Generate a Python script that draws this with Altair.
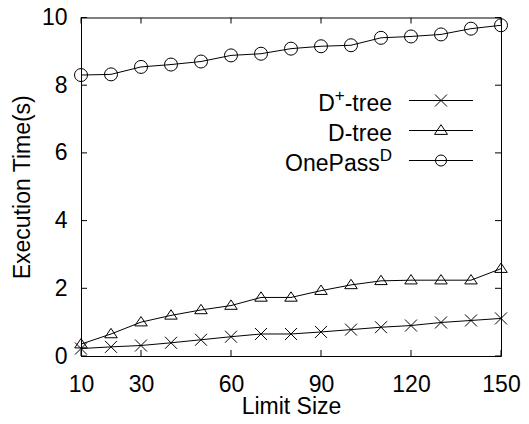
import altair as alt
import pandas as pd

# ---------------- data ----------------
limit_size = [10, 20, 30, 40, 50, 60, 70, 80, 90, 100, 110, 120, 130, 140, 150]
dplus_tree = [0.22, 0.27, 0.31, 0.39, 0.48, 0.57, 0.65, 0.65, 0.71, 0.78, 0.85, 0.90, 0.99, 1.05, 1.11]
d_tree = [0.35, 0.65, 1.00, 1.20, 1.36, 1.49, 1.73, 1.73, 1.93, 2.10, 2.22, 2.24, 2.24, 2.24, 2.58]
onepass_d = [8.30, 8.32, 8.54, 8.61, 8.70, 8.88, 8.93, 9.08, 9.15, 9.18, 9.40, 9.44, 9.50, 9.67, 9.77]

series_names = ["D+-tree", "D-tree", "OnePassD"]
x_ticks = [10, 30, 60, 90, 120, 150]
y_ticks = [0, 2, 4, 6, 8, 10]
x_title = "Limit Size"
y_title = "Execution Time(s)"

# ---------------- styling ----------------
W, H = 420, 338.5
FONT = "Liberation Sans"
FS = 23
SUP = 17
TICK = 6

cross_path = "M-1,-1L1,1M-1,1L1,-1"
tri_path = "M-1,0.6L1,0.6L0,-0.9Z"
shapes = [cross_path, tri_path, "circle"]
sizes = [144, 169, 121]

# Arial / Liberation Sans advance widths (em)
ADV = {"-": 0.333, "t": 0.278, "r": 0.333, "e": 0.556, "D": 0.722, "+": 0.584,
       "O": 0.778, "n": 0.556, "P": 0.667, "a": 0.556, "s": 0.5}


def tw(s, size):
    return sum(ADV.get(c, 0.556) for c in s) * size


rows = []
for n, vals in zip(series_names, [dplus_tree, d_tree, onepass_d]):
    for x, v in zip(limit_size, vals):
        rows.append({"limit": x, "time": v, "series": n})
df = pd.DataFrame(rows)

xs = alt.Scale(domain=[10, 150], nice=False, zero=False)
ys = alt.Scale(domain=[0, 10], nice=False, zero=False)

x_axis = alt.Axis(values=x_ticks, title=x_title, ticks=False, domain=False, grid=False,
                  labelFont=FONT, labelFontSize=FS, labelColor="black", labelPadding=17,
                  titleFont=FONT, titleFontSize=FS, titleFontWeight="normal", titleColor="black",
                  titlePadding=-1, labelFlush=False, labelOverlap=False)
y_axis = alt.Axis(values=y_ticks, title=y_title, ticks=False, domain=False, grid=False,
                  labelFont=FONT, labelFontSize=FS, labelColor="black", labelPadding=14,
                  titleFont=FONT, titleFontSize=FS, titleFontWeight="normal", titleColor="black",
                  titlePadding=7, labelFlush=False, labelOverlap=False)

base = alt.Chart(df)
lines = base.mark_line(color="black", strokeWidth=1).encode(
    x=alt.X("limit:Q", scale=xs, axis=x_axis),
    y=alt.Y("time:Q", scale=ys, axis=y_axis),
    detail="series:N",
)
points = base.mark_point(filled=False, color="black", strokeWidth=1, opacity=1).encode(
    x=alt.X("limit:Q"),
    y=alt.Y("time:Q"),
    shape=alt.Shape("series:N", scale=alt.Scale(domain=series_names, range=shapes), legend=None),
    size=alt.Size("series:N", scale=alt.Scale(domain=series_names, range=sizes), legend=None),
)

xt = alt.Chart(pd.DataFrame({"limit": x_ticks}))
yt = alt.Chart(pd.DataFrame({"time": y_ticks}))
tick_layers = [
    xt.mark_rule(color="black", strokeWidth=1).encode(
        x=alt.X("limit:Q"), y=alt.value(H), y2=alt.value(H - TICK)),
    xt.mark_rule(color="black", strokeWidth=1).encode(
        x=alt.X("limit:Q"), y=alt.value(0), y2=alt.value(TICK)),
    yt.mark_rule(color="black", strokeWidth=1).encode(
        y=alt.Y("time:Q"), x=alt.value(0), x2=alt.value(TICK)),
    yt.mark_rule(color="black", strokeWidth=1).encode(
        y=alt.Y("time:Q"), x=alt.value(W), x2=alt.value(W - TICK)),
]

# ---------------- manual legend ----------------
one = alt.Chart(pd.DataFrame({"a": [0]}))
leg_line_y = [83, 113, 143]
LX1, LX2, LMX, TXR = 328, 392, 360, 311
RAISE = 10.5
legend_layers = []
for i, (ly, shp, sz) in enumerate(zip(leg_line_y, shapes, sizes)):
    legend_layers.append(one.mark_rule(color="black", strokeWidth=1).encode(
        x=alt.value(LX1), x2=alt.value(LX2), y=alt.value(ly)))
    legend_layers.append(one.mark_point(shape=shp, size=sz, filled=False, color="black",
                                        strokeWidth=1, opacity=1).encode(
        x=alt.value(LMX), y=alt.value(ly)))

# text pieces: (text, size, raised)
pieces = [
    [("D", FS, False), ("+", SUP, True), ("-tree", FS, False)],
    [("D-tree", FS, False)],
    [("OnePass", FS, False), ("D", SUP, True)],
]
for ly, parts in zip(leg_line_y, pieces):
    baseline_y = ly + 10.5
    right = TXR
    for txt, size, sup in reversed(parts):
        legend_layers.append(one.mark_text(
            align="right", baseline="alphabetic", font=FONT, fontSize=size, color="black"
        ).encode(x=alt.value(right), y=alt.value(baseline_y - (RAISE if sup else 0)),
                 text=alt.value(txt)))
        right -= tw(txt, size)

chart = alt.layer(lines, points, *tick_layers, *legend_layers).properties(
    width=W, height=H,
    autosize=alt.AutoSizeParams(type="none"),
    padding={"left": 73, "top": 9.5, "right": 20, "bottom": 60},
    background="white",
).configure_view(stroke="black", strokeWidth=1)

chart.save("out.html", embed_options={"renderer": "svg", "actions": False})
